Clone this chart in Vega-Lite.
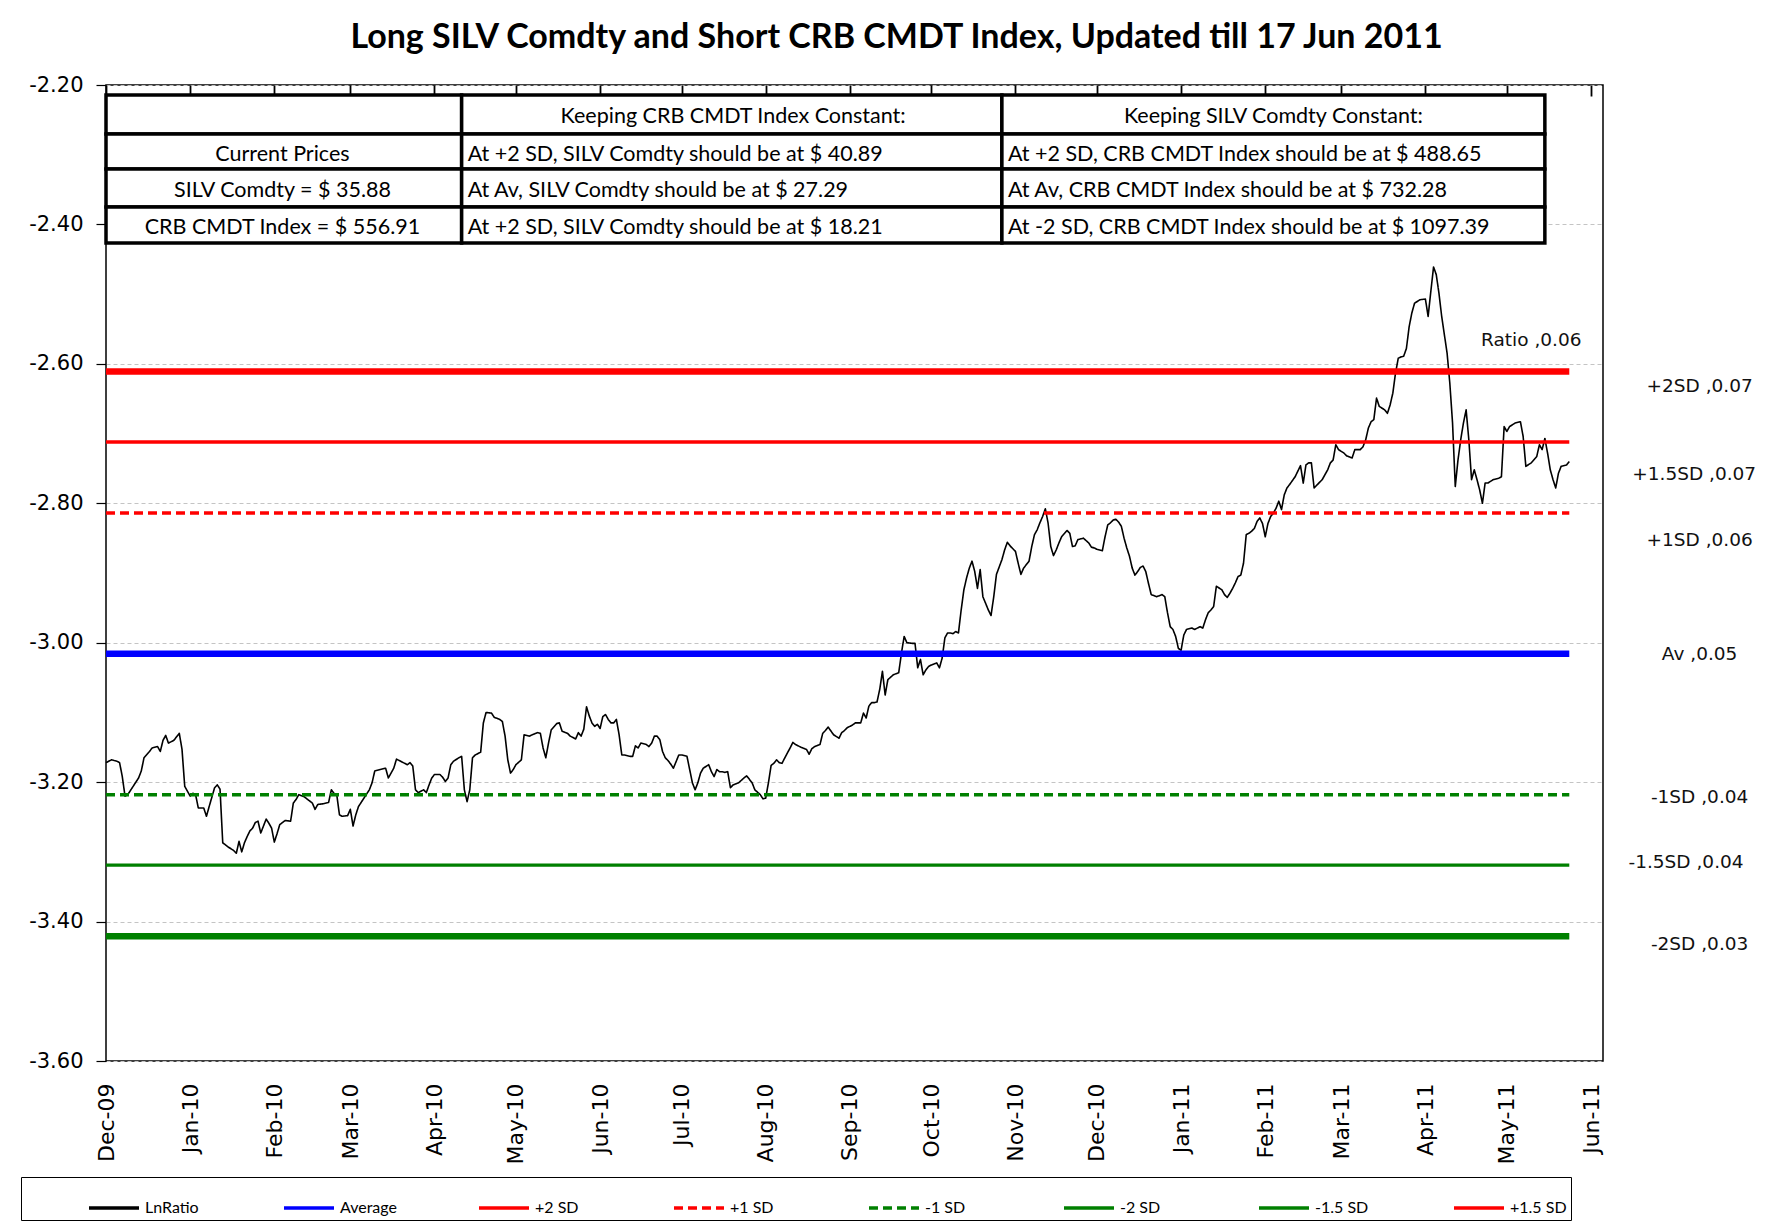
{
"$schema": "https://vega.github.io/schema/vega-lite/v6.json",
"width": 1497, "height": 976,
"autosize": {"type": "none"},
"padding": {"left": 106, "top": 85, "right": 187, "bottom": 169},
"background": "white",
"title": {"text": "Long SILV Comdty and Short CRB CMDT Index, Updated till 17 Jun 2011", "font": "Lato", "fontSize": 34, "fontWeight": "bold", "color": "#000", "anchor": "middle", "frame": "group", "dx": 42, "offset": 19},
"config": {
  "view": {"stroke": "#000", "strokeWidth": 1.5},
  "axis": {"domain": false, "labelColor": "#000", "tickColor": "#000"}
},
"datasets": {
  "series": [
{"s":"LnRatio","t":"2009-12-01","v":-3.172},{"s":"LnRatio","t":"2009-12-03","v":-3.168},{"s":"LnRatio","t":"2009-12-05","v":-3.170},{"s":"LnRatio","t":"2009-12-06","v":-3.172},{"s":"LnRatio","t":"2009-12-07","v":-3.192},{"s":"LnRatio","t":"2009-12-08","v":-3.220},{"s":"LnRatio","t":"2009-12-09","v":-3.218},{"s":"LnRatio","t":"2009-12-11","v":-3.206},{"s":"LnRatio","t":"2009-12-13","v":-3.194},{"s":"LnRatio","t":"2009-12-14","v":-3.184},{"s":"LnRatio","t":"2009-12-15","v":-3.165},{"s":"LnRatio","t":"2009-12-17","v":-3.156},{"s":"LnRatio","t":"2009-12-18","v":-3.151},{"s":"LnRatio","t":"2009-12-20","v":-3.149},{"s":"LnRatio","t":"2009-12-21","v":-3.156},{"s":"LnRatio","t":"2009-12-22","v":-3.140},{"s":"LnRatio","t":"2009-12-23","v":-3.133},{"s":"LnRatio","t":"2009-12-24","v":-3.144},{"s":"LnRatio","t":"2009-12-26","v":-3.140},{"s":"LnRatio","t":"2009-12-27","v":-3.135},{"s":"LnRatio","t":"2009-12-28","v":-3.130},{"s":"LnRatio","t":"2009-12-29","v":-3.153},{"s":"LnRatio","t":"2009-12-30","v":-3.206},
{"s":"LnRatio","t":"2010-01-01","v":-3.220},{"s":"LnRatio","t":"2010-01-02","v":-3.216},{"s":"LnRatio","t":"2010-01-03","v":-3.218},{"s":"LnRatio","t":"2010-01-04","v":-3.237},{"s":"LnRatio","t":"2010-01-06","v":-3.237},{"s":"LnRatio","t":"2010-01-07","v":-3.249},{"s":"LnRatio","t":"2010-01-08","v":-3.235},{"s":"LnRatio","t":"2010-01-10","v":-3.208},{"s":"LnRatio","t":"2010-01-11","v":-3.204},{"s":"LnRatio","t":"2010-01-12","v":-3.210},{"s":"LnRatio","t":"2010-01-13","v":-3.287},{"s":"LnRatio","t":"2010-01-15","v":-3.293},{"s":"LnRatio","t":"2010-01-17","v":-3.298},{"s":"LnRatio","t":"2010-01-18","v":-3.302},{"s":"LnRatio","t":"2010-01-19","v":-3.285},{"s":"LnRatio","t":"2010-01-20","v":-3.300},{"s":"LnRatio","t":"2010-01-21","v":-3.287},{"s":"LnRatio","t":"2010-01-22","v":-3.278},{"s":"LnRatio","t":"2010-01-23","v":-3.270},{"s":"LnRatio","t":"2010-01-24","v":-3.266},{"s":"LnRatio","t":"2010-01-25","v":-3.258},{"s":"LnRatio","t":"2010-01-26","v":-3.256},{"s":"LnRatio","t":"2010-01-27","v":-3.273},{"s":"LnRatio","t":"2010-01-28","v":-3.263},{"s":"LnRatio","t":"2010-01-29","v":-3.253},{"s":"LnRatio","t":"2010-01-30","v":-3.259},{"s":"LnRatio","t":"2010-01-31","v":-3.266},
{"s":"LnRatio","t":"2010-02-01","v":-3.286},{"s":"LnRatio","t":"2010-02-02","v":-3.274},{"s":"LnRatio","t":"2010-02-03","v":-3.261},{"s":"LnRatio","t":"2010-02-05","v":-3.255},{"s":"LnRatio","t":"2010-02-07","v":-3.256},{"s":"LnRatio","t":"2010-02-08","v":-3.230},{"s":"LnRatio","t":"2010-02-09","v":-3.225},{"s":"LnRatio","t":"2010-02-10","v":-3.218},{"s":"LnRatio","t":"2010-02-12","v":-3.221},{"s":"LnRatio","t":"2010-02-14","v":-3.227},{"s":"LnRatio","t":"2010-02-15","v":-3.230},{"s":"LnRatio","t":"2010-02-16","v":-3.239},{"s":"LnRatio","t":"2010-02-17","v":-3.232},{"s":"LnRatio","t":"2010-02-19","v":-3.231},{"s":"LnRatio","t":"2010-02-21","v":-3.229},{"s":"LnRatio","t":"2010-02-22","v":-3.211},{"s":"LnRatio","t":"2010-02-23","v":-3.216},{"s":"LnRatio","t":"2010-02-24","v":-3.218},{"s":"LnRatio","t":"2010-02-25","v":-3.247},{"s":"LnRatio","t":"2010-02-26","v":-3.249},{"s":"LnRatio","t":"2010-02-28","v":-3.248},
{"s":"LnRatio","t":"2010-03-01","v":-3.239},{"s":"LnRatio","t":"2010-03-02","v":-3.263},{"s":"LnRatio","t":"2010-03-03","v":-3.247},{"s":"LnRatio","t":"2010-03-04","v":-3.235},{"s":"LnRatio","t":"2010-03-06","v":-3.223},{"s":"LnRatio","t":"2010-03-08","v":-3.211},{"s":"LnRatio","t":"2010-03-09","v":-3.201},{"s":"LnRatio","t":"2010-03-10","v":-3.184},{"s":"LnRatio","t":"2010-03-12","v":-3.182},{"s":"LnRatio","t":"2010-03-14","v":-3.180},{"s":"LnRatio","t":"2010-03-15","v":-3.194},{"s":"LnRatio","t":"2010-03-16","v":-3.187},{"s":"LnRatio","t":"2010-03-17","v":-3.180},{"s":"LnRatio","t":"2010-03-18","v":-3.167},{"s":"LnRatio","t":"2010-03-19","v":-3.169},{"s":"LnRatio","t":"2010-03-21","v":-3.173},{"s":"LnRatio","t":"2010-03-22","v":-3.175},{"s":"LnRatio","t":"2010-03-23","v":-3.172},{"s":"LnRatio","t":"2010-03-24","v":-3.177},{"s":"LnRatio","t":"2010-03-25","v":-3.211},{"s":"LnRatio","t":"2010-03-26","v":-3.215},{"s":"LnRatio","t":"2010-03-27","v":-3.213},{"s":"LnRatio","t":"2010-03-28","v":-3.211},{"s":"LnRatio","t":"2010-03-29","v":-3.215},{"s":"LnRatio","t":"2010-03-30","v":-3.204},{"s":"LnRatio","t":"2010-03-31","v":-3.194},
{"s":"LnRatio","t":"2010-04-01","v":-3.189},{"s":"LnRatio","t":"2010-04-03","v":-3.189},{"s":"LnRatio","t":"2010-04-04","v":-3.193},{"s":"LnRatio","t":"2010-04-05","v":-3.199},{"s":"LnRatio","t":"2010-04-06","v":-3.194},{"s":"LnRatio","t":"2010-04-07","v":-3.175},{"s":"LnRatio","t":"2010-04-08","v":-3.170},{"s":"LnRatio","t":"2010-04-10","v":-3.165},{"s":"LnRatio","t":"2010-04-11","v":-3.163},{"s":"LnRatio","t":"2010-04-12","v":-3.211},{"s":"LnRatio","t":"2010-04-13","v":-3.228},{"s":"LnRatio","t":"2010-04-14","v":-3.211},{"s":"LnRatio","t":"2010-04-15","v":-3.165},{"s":"LnRatio","t":"2010-04-16","v":-3.161},{"s":"LnRatio","t":"2010-04-18","v":-3.157},{"s":"LnRatio","t":"2010-04-19","v":-3.115},{"s":"LnRatio","t":"2010-04-20","v":-3.100},{"s":"LnRatio","t":"2010-04-22","v":-3.101},{"s":"LnRatio","t":"2010-04-23","v":-3.107},{"s":"LnRatio","t":"2010-04-25","v":-3.110},{"s":"LnRatio","t":"2010-04-26","v":-3.113},{"s":"LnRatio","t":"2010-04-27","v":-3.134},{"s":"LnRatio","t":"2010-04-28","v":-3.168},{"s":"LnRatio","t":"2010-04-29","v":-3.187},{"s":"LnRatio","t":"2010-04-30","v":-3.182},
{"s":"LnRatio","t":"2010-05-01","v":-3.175},{"s":"LnRatio","t":"2010-05-03","v":-3.168},{"s":"LnRatio","t":"2010-05-04","v":-3.132},{"s":"LnRatio","t":"2010-05-06","v":-3.134},{"s":"LnRatio","t":"2010-05-07","v":-3.132},{"s":"LnRatio","t":"2010-05-09","v":-3.129},{"s":"LnRatio","t":"2010-05-10","v":-3.130},{"s":"LnRatio","t":"2010-05-11","v":-3.151},{"s":"LnRatio","t":"2010-05-12","v":-3.165},{"s":"LnRatio","t":"2010-05-13","v":-3.144},{"s":"LnRatio","t":"2010-05-14","v":-3.125},{"s":"LnRatio","t":"2010-05-16","v":-3.116},{"s":"LnRatio","t":"2010-05-17","v":-3.115},{"s":"LnRatio","t":"2010-05-18","v":-3.127},{"s":"LnRatio","t":"2010-05-20","v":-3.130},{"s":"LnRatio","t":"2010-05-21","v":-3.134},{"s":"LnRatio","t":"2010-05-23","v":-3.138},{"s":"LnRatio","t":"2010-05-24","v":-3.129},{"s":"LnRatio","t":"2010-05-25","v":-3.134},{"s":"LnRatio","t":"2010-05-26","v":-3.124},{"s":"LnRatio","t":"2010-05-27","v":-3.092},{"s":"LnRatio","t":"2010-05-28","v":-3.105},{"s":"LnRatio","t":"2010-05-29","v":-3.115},{"s":"LnRatio","t":"2010-05-30","v":-3.120},{"s":"LnRatio","t":"2010-05-31","v":-3.117},
{"s":"LnRatio","t":"2010-06-01","v":-3.123},{"s":"LnRatio","t":"2010-06-02","v":-3.106},{"s":"LnRatio","t":"2010-06-03","v":-3.103},{"s":"LnRatio","t":"2010-06-04","v":-3.110},{"s":"LnRatio","t":"2010-06-05","v":-3.115},{"s":"LnRatio","t":"2010-06-06","v":-3.115},{"s":"LnRatio","t":"2010-06-07","v":-3.110},{"s":"LnRatio","t":"2010-06-08","v":-3.132},{"s":"LnRatio","t":"2010-06-09","v":-3.161},{"s":"LnRatio","t":"2010-06-10","v":-3.161},{"s":"LnRatio","t":"2010-06-12","v":-3.163},{"s":"LnRatio","t":"2010-06-13","v":-3.163},{"s":"LnRatio","t":"2010-06-14","v":-3.148},{"s":"LnRatio","t":"2010-06-15","v":-3.151},{"s":"LnRatio","t":"2010-06-16","v":-3.144},{"s":"LnRatio","t":"2010-06-18","v":-3.146},{"s":"LnRatio","t":"2010-06-19","v":-3.149},{"s":"LnRatio","t":"2010-06-20","v":-3.144},{"s":"LnRatio","t":"2010-06-21","v":-3.134},{"s":"LnRatio","t":"2010-06-22","v":-3.134},{"s":"LnRatio","t":"2010-06-23","v":-3.139},{"s":"LnRatio","t":"2010-06-24","v":-3.156},{"s":"LnRatio","t":"2010-06-25","v":-3.165},{"s":"LnRatio","t":"2010-06-26","v":-3.169},{"s":"LnRatio","t":"2010-06-27","v":-3.174},{"s":"LnRatio","t":"2010-06-28","v":-3.180},{"s":"LnRatio","t":"2010-06-30","v":-3.161},
{"s":"LnRatio","t":"2010-07-01","v":-3.161},{"s":"LnRatio","t":"2010-07-03","v":-3.163},{"s":"LnRatio","t":"2010-07-04","v":-3.182},{"s":"LnRatio","t":"2010-07-05","v":-3.201},{"s":"LnRatio","t":"2010-07-06","v":-3.211},{"s":"LnRatio","t":"2010-07-07","v":-3.201},{"s":"LnRatio","t":"2010-07-08","v":-3.187},{"s":"LnRatio","t":"2010-07-09","v":-3.180},{"s":"LnRatio","t":"2010-07-11","v":-3.175},{"s":"LnRatio","t":"2010-07-12","v":-3.185},{"s":"LnRatio","t":"2010-07-13","v":-3.192},{"s":"LnRatio","t":"2010-07-14","v":-3.182},{"s":"LnRatio","t":"2010-07-15","v":-3.185},{"s":"LnRatio","t":"2010-07-16","v":-3.185},{"s":"LnRatio","t":"2010-07-17","v":-3.186},{"s":"LnRatio","t":"2010-07-18","v":-3.185},{"s":"LnRatio","t":"2010-07-19","v":-3.208},{"s":"LnRatio","t":"2010-07-20","v":-3.204},{"s":"LnRatio","t":"2010-07-22","v":-3.201},{"s":"LnRatio","t":"2010-07-24","v":-3.194},{"s":"LnRatio","t":"2010-07-25","v":-3.191},{"s":"LnRatio","t":"2010-07-26","v":-3.196},{"s":"LnRatio","t":"2010-07-27","v":-3.201},{"s":"LnRatio","t":"2010-07-28","v":-3.211},{"s":"LnRatio","t":"2010-07-30","v":-3.218},{"s":"LnRatio","t":"2010-07-31","v":-3.224},
{"s":"LnRatio","t":"2010-08-01","v":-3.223},{"s":"LnRatio","t":"2010-08-02","v":-3.201},{"s":"LnRatio","t":"2010-08-03","v":-3.176},{"s":"LnRatio","t":"2010-08-04","v":-3.173},{"s":"LnRatio","t":"2010-08-05","v":-3.168},{"s":"LnRatio","t":"2010-08-06","v":-3.172},{"s":"LnRatio","t":"2010-08-07","v":-3.173},{"s":"LnRatio","t":"2010-08-09","v":-3.158},{"s":"LnRatio","t":"2010-08-10","v":-3.151},{"s":"LnRatio","t":"2010-08-11","v":-3.143},{"s":"LnRatio","t":"2010-08-12","v":-3.146},{"s":"LnRatio","t":"2010-08-14","v":-3.150},{"s":"LnRatio","t":"2010-08-16","v":-3.153},{"s":"LnRatio","t":"2010-08-17","v":-3.160},{"s":"LnRatio","t":"2010-08-18","v":-3.152},{"s":"LnRatio","t":"2010-08-19","v":-3.149},{"s":"LnRatio","t":"2010-08-21","v":-3.146},{"s":"LnRatio","t":"2010-08-22","v":-3.130},{"s":"LnRatio","t":"2010-08-23","v":-3.126},{"s":"LnRatio","t":"2010-08-24","v":-3.121},{"s":"LnRatio","t":"2010-08-26","v":-3.132},{"s":"LnRatio","t":"2010-08-28","v":-3.137},{"s":"LnRatio","t":"2010-08-29","v":-3.129},{"s":"LnRatio","t":"2010-08-30","v":-3.126},{"s":"LnRatio","t":"2010-08-31","v":-3.122},
{"s":"LnRatio","t":"2010-09-01","v":-3.120},{"s":"LnRatio","t":"2010-09-02","v":-3.118},{"s":"LnRatio","t":"2010-09-03","v":-3.115},{"s":"LnRatio","t":"2010-09-05","v":-3.115},{"s":"LnRatio","t":"2010-09-06","v":-3.101},{"s":"LnRatio","t":"2010-09-07","v":-3.108},{"s":"LnRatio","t":"2010-09-08","v":-3.091},{"s":"LnRatio","t":"2010-09-09","v":-3.086},{"s":"LnRatio","t":"2010-09-10","v":-3.086},{"s":"LnRatio","t":"2010-09-11","v":-3.085},{"s":"LnRatio","t":"2010-09-12","v":-3.067},{"s":"LnRatio","t":"2010-09-13","v":-3.041},{"s":"LnRatio","t":"2010-09-14","v":-3.075},{"s":"LnRatio","t":"2010-09-15","v":-3.053},{"s":"LnRatio","t":"2010-09-17","v":-3.046},{"s":"LnRatio","t":"2010-09-19","v":-3.043},{"s":"LnRatio","t":"2010-09-20","v":-3.015},{"s":"LnRatio","t":"2010-09-21","v":-2.991},{"s":"LnRatio","t":"2010-09-22","v":-3.000},{"s":"LnRatio","t":"2010-09-24","v":-3.001},{"s":"LnRatio","t":"2010-09-25","v":-3.001},{"s":"LnRatio","t":"2010-09-26","v":-3.036},{"s":"LnRatio","t":"2010-09-27","v":-3.024},{"s":"LnRatio","t":"2010-09-28","v":-3.046},{"s":"LnRatio","t":"2010-09-29","v":-3.039},{"s":"LnRatio","t":"2010-09-30","v":-3.034},
{"s":"LnRatio","t":"2010-10-01","v":-3.032},{"s":"LnRatio","t":"2010-10-03","v":-3.029},{"s":"LnRatio","t":"2010-10-04","v":-3.036},{"s":"LnRatio","t":"2010-10-05","v":-3.022},{"s":"LnRatio","t":"2010-10-06","v":-2.993},{"s":"LnRatio","t":"2010-10-07","v":-2.986},{"s":"LnRatio","t":"2010-10-08","v":-2.986},{"s":"LnRatio","t":"2010-10-09","v":-2.987},{"s":"LnRatio","t":"2010-10-10","v":-2.984},{"s":"LnRatio","t":"2010-10-11","v":-2.986},{"s":"LnRatio","t":"2010-10-12","v":-2.953},{"s":"LnRatio","t":"2010-10-13","v":-2.924},{"s":"LnRatio","t":"2010-10-14","v":-2.907},{"s":"LnRatio","t":"2010-10-15","v":-2.893},{"s":"LnRatio","t":"2010-10-16","v":-2.883},{"s":"LnRatio","t":"2010-10-17","v":-2.898},{"s":"LnRatio","t":"2010-10-18","v":-2.922},{"s":"LnRatio","t":"2010-10-19","v":-2.895},{"s":"LnRatio","t":"2010-10-20","v":-2.934},{"s":"LnRatio","t":"2010-10-22","v":-2.953},{"s":"LnRatio","t":"2010-10-23","v":-2.961},{"s":"LnRatio","t":"2010-10-24","v":-2.934},{"s":"LnRatio","t":"2010-10-25","v":-2.902},{"s":"LnRatio","t":"2010-10-27","v":-2.881},{"s":"LnRatio","t":"2010-10-28","v":-2.867},{"s":"LnRatio","t":"2010-10-29","v":-2.856},{"s":"LnRatio","t":"2010-10-30","v":-2.861},
{"s":"LnRatio","t":"2010-11-01","v":-2.869},{"s":"LnRatio","t":"2010-11-02","v":-2.886},{"s":"LnRatio","t":"2010-11-03","v":-2.902},{"s":"LnRatio","t":"2010-11-04","v":-2.893},{"s":"LnRatio","t":"2010-11-06","v":-2.883},{"s":"LnRatio","t":"2010-11-07","v":-2.862},{"s":"LnRatio","t":"2010-11-08","v":-2.845},{"s":"LnRatio","t":"2010-11-09","v":-2.838},{"s":"LnRatio","t":"2010-11-10","v":-2.828},{"s":"LnRatio","t":"2010-11-11","v":-2.819},{"s":"LnRatio","t":"2010-11-12","v":-2.808},{"s":"LnRatio","t":"2010-11-13","v":-2.828},{"s":"LnRatio","t":"2010-11-14","v":-2.862},{"s":"LnRatio","t":"2010-11-15","v":-2.875},{"s":"LnRatio","t":"2010-11-16","v":-2.867},{"s":"LnRatio","t":"2010-11-17","v":-2.857},{"s":"LnRatio","t":"2010-11-18","v":-2.848},{"s":"LnRatio","t":"2010-11-20","v":-2.839},{"s":"LnRatio","t":"2010-11-21","v":-2.843},{"s":"LnRatio","t":"2010-11-22","v":-2.862},{"s":"LnRatio","t":"2010-11-23","v":-2.861},{"s":"LnRatio","t":"2010-11-24","v":-2.852},{"s":"LnRatio","t":"2010-11-25","v":-2.851},{"s":"LnRatio","t":"2010-11-26","v":-2.850},{"s":"LnRatio","t":"2010-11-28","v":-2.857},{"s":"LnRatio","t":"2010-11-29","v":-2.863},{"s":"LnRatio","t":"2010-11-30","v":-2.864},
{"s":"LnRatio","t":"2010-12-01","v":-2.866},{"s":"LnRatio","t":"2010-12-03","v":-2.868},{"s":"LnRatio","t":"2010-12-04","v":-2.848},{"s":"LnRatio","t":"2010-12-05","v":-2.831},{"s":"LnRatio","t":"2010-12-06","v":-2.828},{"s":"LnRatio","t":"2010-12-07","v":-2.824},{"s":"LnRatio","t":"2010-12-08","v":-2.823},{"s":"LnRatio","t":"2010-12-09","v":-2.827},{"s":"LnRatio","t":"2010-12-10","v":-2.833},{"s":"LnRatio","t":"2010-12-11","v":-2.850},{"s":"LnRatio","t":"2010-12-12","v":-2.864},{"s":"LnRatio","t":"2010-12-13","v":-2.876},{"s":"LnRatio","t":"2010-12-14","v":-2.893},{"s":"LnRatio","t":"2010-12-15","v":-2.903},{"s":"LnRatio","t":"2010-12-16","v":-2.898},{"s":"LnRatio","t":"2010-12-17","v":-2.892},{"s":"LnRatio","t":"2010-12-18","v":-2.890},{"s":"LnRatio","t":"2010-12-19","v":-2.898},{"s":"LnRatio","t":"2010-12-20","v":-2.915},{"s":"LnRatio","t":"2010-12-21","v":-2.931},{"s":"LnRatio","t":"2010-12-23","v":-2.934},{"s":"LnRatio","t":"2010-12-25","v":-2.931},{"s":"LnRatio","t":"2010-12-26","v":-2.934},{"s":"LnRatio","t":"2010-12-27","v":-2.957},{"s":"LnRatio","t":"2010-12-28","v":-2.977},{"s":"LnRatio","t":"2010-12-29","v":-2.981},{"s":"LnRatio","t":"2010-12-30","v":-2.991},{"s":"LnRatio","t":"2010-12-31","v":-3.008},
{"s":"LnRatio","t":"2011-01-01","v":-3.011},{"s":"LnRatio","t":"2011-01-02","v":-2.989},{"s":"LnRatio","t":"2011-01-03","v":-2.981},{"s":"LnRatio","t":"2011-01-05","v":-2.979},{"s":"LnRatio","t":"2011-01-06","v":-2.981},{"s":"LnRatio","t":"2011-01-08","v":-2.977},{"s":"LnRatio","t":"2011-01-09","v":-2.979},{"s":"LnRatio","t":"2011-01-10","v":-2.967},{"s":"LnRatio","t":"2011-01-11","v":-2.957},{"s":"LnRatio","t":"2011-01-12","v":-2.953},{"s":"LnRatio","t":"2011-01-13","v":-2.948},{"s":"LnRatio","t":"2011-01-14","v":-2.919},{"s":"LnRatio","t":"2011-01-16","v":-2.924},{"s":"LnRatio","t":"2011-01-17","v":-2.931},{"s":"LnRatio","t":"2011-01-18","v":-2.935},{"s":"LnRatio","t":"2011-01-19","v":-2.929},{"s":"LnRatio","t":"2011-01-20","v":-2.922},{"s":"LnRatio","t":"2011-01-21","v":-2.914},{"s":"LnRatio","t":"2011-01-22","v":-2.905},{"s":"LnRatio","t":"2011-01-23","v":-2.903},{"s":"LnRatio","t":"2011-01-24","v":-2.886},{"s":"LnRatio","t":"2011-01-25","v":-2.845},{"s":"LnRatio","t":"2011-01-26","v":-2.843},{"s":"LnRatio","t":"2011-01-27","v":-2.840},{"s":"LnRatio","t":"2011-01-28","v":-2.836},{"s":"LnRatio","t":"2011-01-29","v":-2.826},{"s":"LnRatio","t":"2011-01-30","v":-2.821},{"s":"LnRatio","t":"2011-01-31","v":-2.829},
{"s":"LnRatio","t":"2011-02-01","v":-2.848},{"s":"LnRatio","t":"2011-02-02","v":-2.829},{"s":"LnRatio","t":"2011-02-03","v":-2.819},{"s":"LnRatio","t":"2011-02-04","v":-2.814},{"s":"LnRatio","t":"2011-02-05","v":-2.807},{"s":"LnRatio","t":"2011-02-06","v":-2.797},{"s":"LnRatio","t":"2011-02-07","v":-2.809},{"s":"LnRatio","t":"2011-02-08","v":-2.788},{"s":"LnRatio","t":"2011-02-09","v":-2.778},{"s":"LnRatio","t":"2011-02-10","v":-2.773},{"s":"LnRatio","t":"2011-02-12","v":-2.762},{"s":"LnRatio","t":"2011-02-13","v":-2.754},{"s":"LnRatio","t":"2011-02-14","v":-2.746},{"s":"LnRatio","t":"2011-02-15","v":-2.771},{"s":"LnRatio","t":"2011-02-16","v":-2.745},{"s":"LnRatio","t":"2011-02-17","v":-2.742},{"s":"LnRatio","t":"2011-02-18","v":-2.742},{"s":"LnRatio","t":"2011-02-19","v":-2.778},{"s":"LnRatio","t":"2011-02-20","v":-2.774},{"s":"LnRatio","t":"2011-02-22","v":-2.766},{"s":"LnRatio","t":"2011-02-23","v":-2.759},{"s":"LnRatio","t":"2011-02-24","v":-2.752},{"s":"LnRatio","t":"2011-02-25","v":-2.742},{"s":"LnRatio","t":"2011-02-26","v":-2.738},{"s":"LnRatio","t":"2011-02-27","v":-2.716},{"s":"LnRatio","t":"2011-02-28","v":-2.723},
{"s":"LnRatio","t":"2011-03-02","v":-2.728},{"s":"LnRatio","t":"2011-03-03","v":-2.732},{"s":"LnRatio","t":"2011-03-05","v":-2.735},{"s":"LnRatio","t":"2011-03-06","v":-2.723},{"s":"LnRatio","t":"2011-03-08","v":-2.723},{"s":"LnRatio","t":"2011-03-09","v":-2.719},{"s":"LnRatio","t":"2011-03-10","v":-2.709},{"s":"LnRatio","t":"2011-03-11","v":-2.692},{"s":"LnRatio","t":"2011-03-12","v":-2.683},{"s":"LnRatio","t":"2011-03-13","v":-2.680},{"s":"LnRatio","t":"2011-03-14","v":-2.649},{"s":"LnRatio","t":"2011-03-15","v":-2.661},{"s":"LnRatio","t":"2011-03-17","v":-2.666},{"s":"LnRatio","t":"2011-03-18","v":-2.671},{"s":"LnRatio","t":"2011-03-19","v":-2.659},{"s":"LnRatio","t":"2011-03-20","v":-2.642},{"s":"LnRatio","t":"2011-03-21","v":-2.613},{"s":"LnRatio","t":"2011-03-22","v":-2.592},{"s":"LnRatio","t":"2011-03-23","v":-2.590},{"s":"LnRatio","t":"2011-03-24","v":-2.589},{"s":"LnRatio","t":"2011-03-25","v":-2.578},{"s":"LnRatio","t":"2011-03-26","v":-2.547},{"s":"LnRatio","t":"2011-03-27","v":-2.527},{"s":"LnRatio","t":"2011-03-28","v":-2.513},{"s":"LnRatio","t":"2011-03-30","v":-2.508},
{"s":"LnRatio","t":"2011-04-01","v":-2.507},{"s":"LnRatio","t":"2011-04-02","v":-2.532},{"s":"LnRatio","t":"2011-04-03","v":-2.496},{"s":"LnRatio","t":"2011-04-04","v":-2.461},{"s":"LnRatio","t":"2011-04-05","v":-2.472},{"s":"LnRatio","t":"2011-04-06","v":-2.499},{"s":"LnRatio","t":"2011-04-07","v":-2.532},{"s":"LnRatio","t":"2011-04-09","v":-2.585},{"s":"LnRatio","t":"2011-04-10","v":-2.628},{"s":"LnRatio","t":"2011-04-11","v":-2.685},{"s":"LnRatio","t":"2011-04-12","v":-2.776},{"s":"LnRatio","t":"2011-04-13","v":-2.738},{"s":"LnRatio","t":"2011-04-14","v":-2.709},{"s":"LnRatio","t":"2011-04-15","v":-2.685},{"s":"LnRatio","t":"2011-04-16","v":-2.666},{"s":"LnRatio","t":"2011-04-17","v":-2.709},{"s":"LnRatio","t":"2011-04-18","v":-2.766},{"s":"LnRatio","t":"2011-04-19","v":-2.752},{"s":"LnRatio","t":"2011-04-20","v":-2.766},{"s":"LnRatio","t":"2011-04-21","v":-2.781},{"s":"LnRatio","t":"2011-04-22","v":-2.800},{"s":"LnRatio","t":"2011-04-23","v":-2.771},{"s":"LnRatio","t":"2011-04-24","v":-2.771},{"s":"LnRatio","t":"2011-04-26","v":-2.766},{"s":"LnRatio","t":"2011-04-28","v":-2.764},{"s":"LnRatio","t":"2011-04-29","v":-2.762},{"s":"LnRatio","t":"2011-04-30","v":-2.690},
{"s":"LnRatio","t":"2011-05-01","v":-2.697},{"s":"LnRatio","t":"2011-05-02","v":-2.690},{"s":"LnRatio","t":"2011-05-04","v":-2.685},{"s":"LnRatio","t":"2011-05-06","v":-2.683},{"s":"LnRatio","t":"2011-05-07","v":-2.704},{"s":"LnRatio","t":"2011-05-08","v":-2.747},{"s":"LnRatio","t":"2011-05-10","v":-2.742},{"s":"LnRatio","t":"2011-05-12","v":-2.733},{"s":"LnRatio","t":"2011-05-13","v":-2.716},{"s":"LnRatio","t":"2011-05-14","v":-2.723},{"s":"LnRatio","t":"2011-05-15","v":-2.707},{"s":"LnRatio","t":"2011-05-16","v":-2.728},{"s":"LnRatio","t":"2011-05-17","v":-2.752},{"s":"LnRatio","t":"2011-05-18","v":-2.766},{"s":"LnRatio","t":"2011-05-19","v":-2.778},{"s":"LnRatio","t":"2011-05-20","v":-2.757},{"s":"LnRatio","t":"2011-05-21","v":-2.747},{"s":"LnRatio","t":"2011-05-23","v":-2.745},{"s":"LnRatio","t":"2011-05-24","v":-2.740},
{"s":"Average","t":"2009-12-01","v":-3.016},{"s":"Average","t":"2011-05-24","v":-3.016},
{"s":"+2 SD","t":"2009-12-01","v":-2.611},{"s":"+2 SD","t":"2011-05-24","v":-2.611},
{"s":"-2 SD","t":"2009-12-01","v":-3.421},{"s":"-2 SD","t":"2011-05-24","v":-3.421},
{"s":"+1 SD","t":"2009-12-01","v":-2.814},{"s":"+1 SD","t":"2011-05-24","v":-2.814},
{"s":"-1 SD","t":"2009-12-01","v":-3.218},{"s":"-1 SD","t":"2011-05-24","v":-3.218},
{"s":"-1.5 SD","t":"2009-12-01","v":-3.319},{"s":"-1.5 SD","t":"2011-05-24","v":-3.319},
{"s":"+1.5 SD","t":"2009-12-01","v":-2.712},{"s":"+1.5 SD","t":"2011-05-24","v":-2.712}
  ],
  "table": [
    {"x0":"2009-12-01","x1":"2010-04-11","y0":-2.2143,"y1":-2.2703},
    {"x0":"2010-04-11","x1":"2010-10-27","y0":-2.2143,"y1":-2.2703},
    {"x0":"2010-10-27","x1":"2011-05-15","y0":-2.2143,"y1":-2.2703},
    {"x0":"2009-12-01","x1":"2010-04-11","y0":-2.2703,"y1":-2.3204},
    {"x0":"2010-04-11","x1":"2010-10-27","y0":-2.2703,"y1":-2.3204},
    {"x0":"2010-10-27","x1":"2011-05-15","y0":-2.2703,"y1":-2.3204},
    {"x0":"2009-12-01","x1":"2010-04-11","y0":-2.3204,"y1":-2.3749},
    {"x0":"2010-04-11","x1":"2010-10-27","y0":-2.3204,"y1":-2.3749},
    {"x0":"2010-10-27","x1":"2011-05-15","y0":-2.3204,"y1":-2.3749},
    {"x0":"2009-12-01","x1":"2010-04-11","y0":-2.3749,"y1":-2.4265},
    {"x0":"2010-04-11","x1":"2010-10-27","y0":-2.3749,"y1":-2.4265},
    {"x0":"2010-10-27","x1":"2011-05-15","y0":-2.3749,"y1":-2.4265}
  ],
  "tcenter": [
    {"t":"2010-07-20","y":-2.2423,"label":"Keeping CRB CMDT Index Constant:"},
    {"t":"2011-02-04","y":-2.2423,"label":"Keeping SILV Comdty Constant:"},
    {"t":"2010-02-04","y":-2.2954,"label":"Current Prices"},
    {"t":"2010-02-04","y":-2.3477,"label":"SILV Comdty =  $ 35.88"},
    {"t":"2010-02-04","y":-2.4007,"label":"CRB CMDT Index =  $ 556.91"}
  ],
  "tleft": [
    {"t":"2010-04-11","y":-2.2954,"label":"At +2 SD, SILV Comdty should be at $ 40.89"},
    {"t":"2010-04-11","y":-2.3477,"label":"At Av, SILV Comdty should be at $ 27.29"},
    {"t":"2010-04-11","y":-2.4007,"label":"At +2 SD, SILV Comdty should be at $ 18.21"},
    {"t":"2010-10-27","y":-2.2954,"label":"At +2 SD, CRB CMDT Index should be at $ 488.65"},
    {"t":"2010-10-27","y":-2.3477,"label":"At Av, CRB CMDT Index should be at $ 732.28"},
    {"t":"2010-10-27","y":-2.4007,"label":"At -2 SD, CRB CMDT Index should be at $ 1097.39"}
  ],
  "notes": [
    {"label":"Ratio ,0.06","t":"2011-05-10","y":-2.566},
    {"label":"+2SD ,0.07","t":"2011-07-11","y":-2.632},
    {"label":"+1.5SD ,0.07","t":"2011-07-09","y":-2.758},
    {"label":"+1SD ,0.06","t":"2011-07-11","y":-2.852},
    {"label":"Av ,0.05","t":"2011-07-11","y":-3.016},
    {"label":"-1SD ,0.04","t":"2011-07-11","y":-3.222},
    {"label":"-1.5SD ,0.04","t":"2011-07-06","y":-3.314},
    {"label":"-2SD ,0.03","t":"2011-07-11","y":-3.432}
  ]
},
"layer": [
  {
    "data": {"name": "series"},
    "transform": [{"filter": "datum.s === 'LnRatio'"}],
    "mark": {"type": "line", "strokeWidth": 1.6, "strokeJoin": "round"},
    "encoding": {
      "x": {"field": "t", "type": "temporal",
        "scale": {"type": "utc", "domain": [{"year": 2009, "month": 12, "date": 1, "utc": true}, {"year": 2011, "month": 6, "date": 5, "hours": 10, "utc": true}]},
        "axis": {"orient": "bottom", "format": "%b-%y", "tickCount": {"interval": "month", "step": 1}, "labelAngle": 270, "labelFont": "DejaVu Sans", "labelFontSize": 22, "labelColor": "#000", "ticks": false, "tickSize": 0, "labelPadding": 22, "labelFlush": false, "labelOverlap": false, "grid": false, "domain": false, "title": null}},
      "y": {"field": "v", "type": "quantitative",
        "scale": {"domain": [-3.6, -2.2], "nice": false, "zero": false},
        "axis": {"orient": "left", "values": [-3.6, -3.4, -3.2, -3.0, -2.8, -2.6, -2.4, -2.2], "labelExpr": "replace(format(datum.value, '.2f'), '\u2212', '-')", "labelFont": "DejaVu Sans", "labelFontSize": 21, "labelColor": "#000", "ticks": true, "tickSize": 10, "tickWidth": 1.2, "tickColor": "#000", "labelPadding": 13, "grid": true, "gridColor": "#c4c4c4", "gridDash": [4, 3], "gridWidth": 1, "domain": false, "title": null}},
      "color": {"field": "s", "type": "nominal",
        "scale": {"domain": ["LnRatio", "Average", "+2 SD", "+1 SD", "-1 SD", "-2 SD", "-1.5 SD", "+1.5 SD"], "range": ["#000000", "#0000FF", "#FF0000", "#FF0000", "#008000", "#008000", "#008000", "#FF0000"]},
        "legend": {"orient": "none", "legendX": -85, "legendY": 1092, "direction": "horizontal", "columns": 8, "title": "\u00a0", "titleOrient": "left", "titlePadding": 62, "titleFontSize": 4, "symbolType": "stroke", "symbolSize": 2500, "symbolStrokeWidth": 3.5, "labelFont": "Lato", "labelFontSize": 16, "labelColor": "#000", "strokeColor": "#000", "padding": 4, "columnPadding": 75, "gridAlign": "all", "labelOffset": 4}},
      "strokeDash": {"field": "s", "type": "nominal",
        "scale": {"domain": ["LnRatio", "Average", "+2 SD", "+1 SD", "-1 SD", "-2 SD", "-1.5 SD", "+1.5 SD"], "range": [[1, 0], [1, 0], [1, 0], [9, 5], [9, 5], [1, 0], [1, 0], [1, 0]]},
        "legend": {"orient": "none", "legendX": -85, "legendY": 1092, "direction": "horizontal", "columns": 8, "title": "\u00a0", "titleOrient": "left", "titlePadding": 62, "titleFontSize": 4, "symbolType": "stroke", "symbolSize": 2500, "symbolStrokeWidth": 3.5, "labelFont": "Lato", "labelFontSize": 16, "labelColor": "#000", "strokeColor": "#000", "padding": 4, "columnPadding": 75, "gridAlign": "all", "labelOffset": 4}}
    }
  },
  {
    "data": {"name": "series"},
    "transform": [{"filter": "datum.s === 'Average' || datum.s === '+2 SD' || datum.s === '-2 SD'"}],
    "mark": {"type": "line", "strokeWidth": 6.5},
    "encoding": {
      "x": {"field": "t", "type": "temporal",
        "axis": {"orient": "top", "labels": false, "ticks": true, "tickSize": -11, "tickWidth": 1.8, "tickColor": "#000", "tickCount": {"interval": "month", "step": 1}, "grid": false, "domain": false, "title": null}},
      "y": {"field": "v", "type": "quantitative"},
      "color": {"field": "s", "type": "nominal"},
      "strokeDash": {"field": "s", "type": "nominal"}
    }
  },
  {
    "data": {"name": "series"},
    "transform": [{"filter": "datum.s === '+1 SD' || datum.s === '-1 SD' || datum.s === '+1.5 SD' || datum.s === '-1.5 SD'"}],
    "mark": {"type": "line", "strokeWidth": 3.4},
    "encoding": {
      "x": {"field": "t", "type": "temporal", "axis": null},
      "y": {"field": "v", "type": "quantitative"},
      "color": {"field": "s", "type": "nominal"},
      "strokeDash": {"field": "s", "type": "nominal"}
    }
  },
  {
    "data": {"name": "table"},
    "mark": {"type": "rect", "fill": "white", "stroke": "black", "strokeWidth": 3.5},
    "encoding": {
      "x": {"field": "x0", "type": "temporal", "axis": null},
      "x2": {"field": "x1"},
      "y": {"field": "y0", "type": "quantitative"},
      "y2": {"field": "y1"}
    }
  },
  {
    "data": {"name": "tcenter"},
    "mark": {"type": "text", "font": "Lato", "fontSize": 21.5, "color": "#000", "align": "center", "baseline": "middle", "dy": 3},
    "encoding": {
      "x": {"field": "t", "type": "temporal", "axis": null},
      "y": {"field": "y", "type": "quantitative"},
      "text": {"field": "label"}
    }
  },
  {
    "data": {"name": "tleft"},
    "mark": {"type": "text", "font": "Lato", "fontSize": 21.5, "color": "#000", "align": "left", "baseline": "middle", "dx": 6, "dy": 3},
    "encoding": {
      "x": {"field": "t", "type": "temporal", "axis": null},
      "y": {"field": "y", "type": "quantitative"},
      "text": {"field": "label"}
    }
  },
  {
    "data": {"name": "notes"},
    "mark": {"type": "text", "font": "DejaVu Sans", "fontSize": 18.5, "color": "#111", "align": "center", "baseline": "middle"},
    "encoding": {
      "x": {"field": "t", "type": "temporal", "axis": null},
      "y": {"field": "y", "type": "quantitative"},
      "text": {"field": "label"}
    }
  }
],
"resolve": {"axis": {"x": "independent"}}
}
